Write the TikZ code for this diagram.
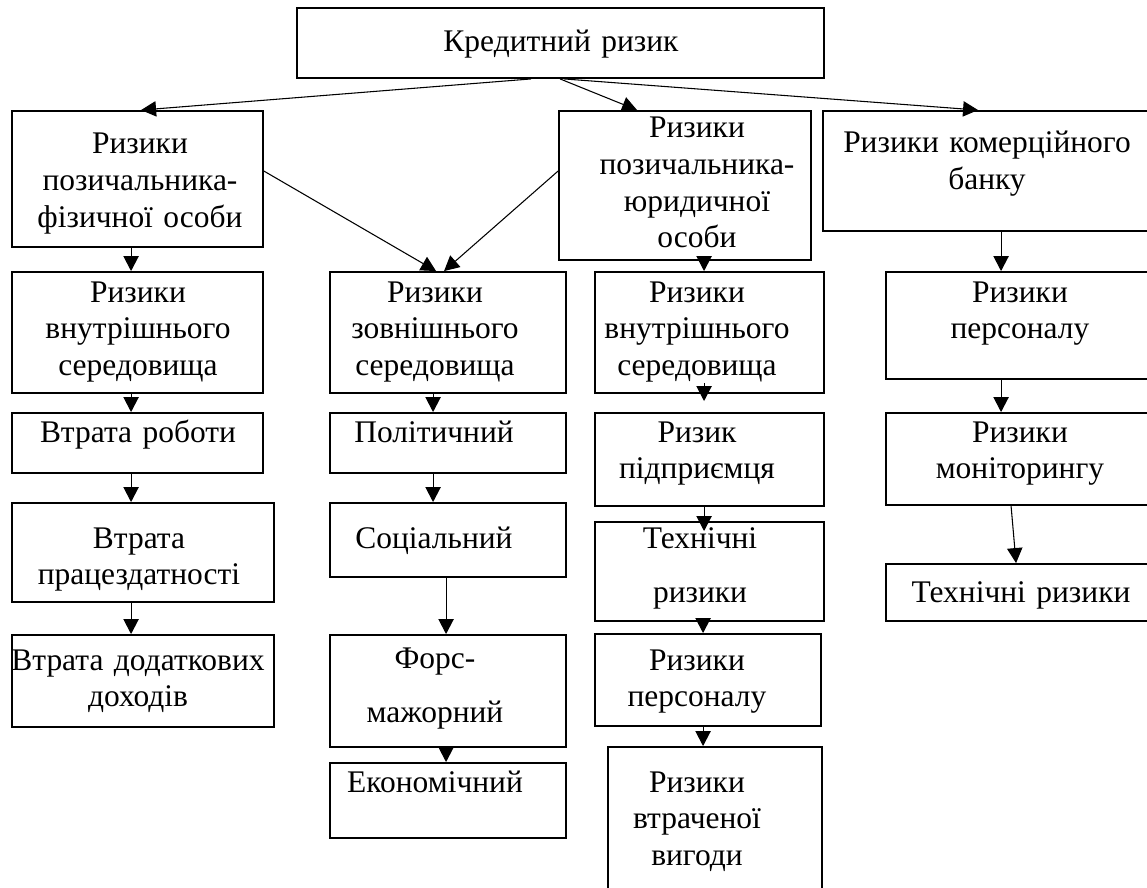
\documentclass[tikz,border=0pt]{standalone}
\usepackage{fontspec}
\setmainfont{Liberation Serif}
\usetikzlibrary{arrows.meta,fit,calc}
\tikzset{
  box/.style={draw, line width=1.4pt, inner sep=0pt, rectangle},
  txt/.style={text width=300pt, align=center, anchor=base, inner sep=0pt, font=\fontsize{23.6pt}{27.5pt}\selectfont},
  arr/.style={-{Triangle[length=11.25pt,width=11.5pt]}, line width=0.8pt},
}
\begin{document}
\begin{tikzpicture}[x=0.75pt,y=-0.75pt]
\useasboundingbox (0,0) rectangle (1147,888);
\clip (0,0) rectangle (1147,888);
\fill[white] (0,0) rectangle (1147,888);
% boxes
\node[box, fit={(297,8) (824,78)}] (K) {};
\node[box, fit={(12,111) (263,247)}] (A) {};
\node[box, fit={(559,111) (811,260)}] (B) {};
\node[box, fit={(823,111) (1160,231)}] (C) {};
\node[box, fit={(12,272) (263,393)}] (A1) {};
\node[box, fit={(330,272) (566,393)}] (Z) {};
\node[box, fit={(595,272) (824,393)}] (B1) {};
\node[box, fit={(886,272) (1160,379)}] (C1) {};
\node[box, fit={(12,413) (263,473)}] (A2) {};
\node[box, fit={(330,413) (566,473)}] (P) {};
\node[box, fit={(595,413) (824,506)}] (B2) {};
\node[box, fit={(886,413) (1160,505)}] (C2) {};
\node[box, fit={(12,503) (274,602)}] (A3) {};
\node[box, fit={(330,503) (566,577)}] (S) {};
\node[box, fit={(595,522) (824,621)}] (B3) {};
\node[box, fit={(886,564) (1160,621)}] (C3) {};
\node[box, fit={(12,635) (274,727)}] (A4) {};
\node[box, fit={(330,635) (566,747)}] (F) {};
\node[box, fit={(595,634) (821,726)}] (B4) {};
\node[box, fit={(330,763) (566,838)}] (E) {};
\node[box, fit={(608,747) (822,900)}] (B5) {};
% texts
\node[txt] (tK) at (561,52) {Кредитний ризик};
\node[txt] (tA) at (140,154) {Ризики\\позичальника-\\фізичної особи};
\node[txt] (tB) at (697,138) {Ризики\\позичальника-\\юридичної\\особи};
\node[txt] (tC) at (987,153) {Ризики комерційного\\банку};
\node[txt] (tA1) at (138,302) {Ризики\\внутрішнього\\середовища};
\node[txt] (tZ) at (435,302) {Ризики\\зовнішнього\\середовища};
\node[txt] (tB1) at (697,302) {Ризики\\внутрішнього\\середовища};
\node[txt] (tC1) at (1020,302) {Ризики\\персоналу};
\node[txt] (tA2) at (138,442) {Втрата роботи};
\node[txt] (tP) at (434,442) {Політичний};
\node[txt] (tB2) at (697,442) {Ризик\\підприємця};
\node[txt] (tC2) at (1020,442) {Ризики\\моніторингу};
\node[txt] (tA3) at (139,548) {Втрата\\працездатності};
\node[txt] (tS) at (434,548) {Соціальний};
\node[txt] (tB3) at (700,548) {Технічні\\[13pt]ризики};
\node[txt] (tC3) at (1021,602) {Технічні ризики};
\node[txt] (tA4) at (138,670) {Втрата додаткових\\доходів};
\node[txt] (tF) at (435,668) {Форс-\\[13.7pt]мажорний};
\node[txt] (tE) at (435,792) {Економічний};
\node[txt] (tB4) at (697,670) {Ризики\\персоналу};
\node[txt] (tB5) at (697,792) {Ризики\\втраченої\\вигоди};
% connectors
\draw[arr] ($(K.south west)+(235,0)$) -- ($(A.north west)+(130,0)$);
\draw[arr] ($(K.south west)+(264,0)$) -- ($(B.north west)+(79,0)$);
\draw[arr] ($(K.south west)+(268,0)$) -- ($(C.north west)+(156,0)$);
\draw[arr] ($(A.north east)+(0,61)$) -- ($(Z.north west)+(107,0)$);
\draw[arr] ($(B.north west)+(0,61)$) -- ($(Z.north west)+(115,0)$);
\draw[arr] ($(A.south west)+(120,0)$) -- ($(A1.north west)+(120,0)$);
\draw[arr] ($(A1.south west)+(120,0)$) -- ($(A2.north west)+(120,0)$);
\draw[arr] ($(A2.south west)+(120,0)$) -- ($(A3.north west)+(120,0)$);
\draw[arr] ($(A3.south west)+(120,0)$) -- ($(A4.north west)+(120,0)$);
\draw[arr] ($(Z.south west)+(104,0)$) -- ($(P.north west)+(104,0)$);
\draw[arr] ($(P.south west)+(104,0)$) -- ($(S.north west)+(104,0)$);
\draw[arr] ($(S.south west)+(117,0)$) -- ($(F.north west)+(117,0)$);
\draw[arr] ($(F.south west)+(117,0)$) -- ($(E.north west)+(117,0)$);
\draw[arr] ($(B.south west)+(146,0)$) -- ($(B1.north west)+(110,0)$);
\draw[arr] ($(B1.south west)+(110,-11)$) -- ($(B2.north west)+(110,-11)$);
\draw[arr] ($(B2.south west)+(110,0)$) -- ($(B3.north west)+(110,10)$);
\draw[arr] ($(B3.south west)+(109,0)$) -- ($(B4.north west)+(109,0)$);
\draw[arr] ($(B4.south west)+(109,0)$) -- ($(B5.north west)+(96,0)$);
\draw[arr] ($(C.south west)+(179,0)$) -- ($(C1.north west)+(116,0)$);
\draw[arr] ($(C1.south west)+(116,0)$) -- ($(C2.north west)+(116,0)$);
\draw[arr] ($(C2.south west)+(126,0)$) -- ($(C3.north west)+(131,0)$);
\end{tikzpicture}
\end{document}
